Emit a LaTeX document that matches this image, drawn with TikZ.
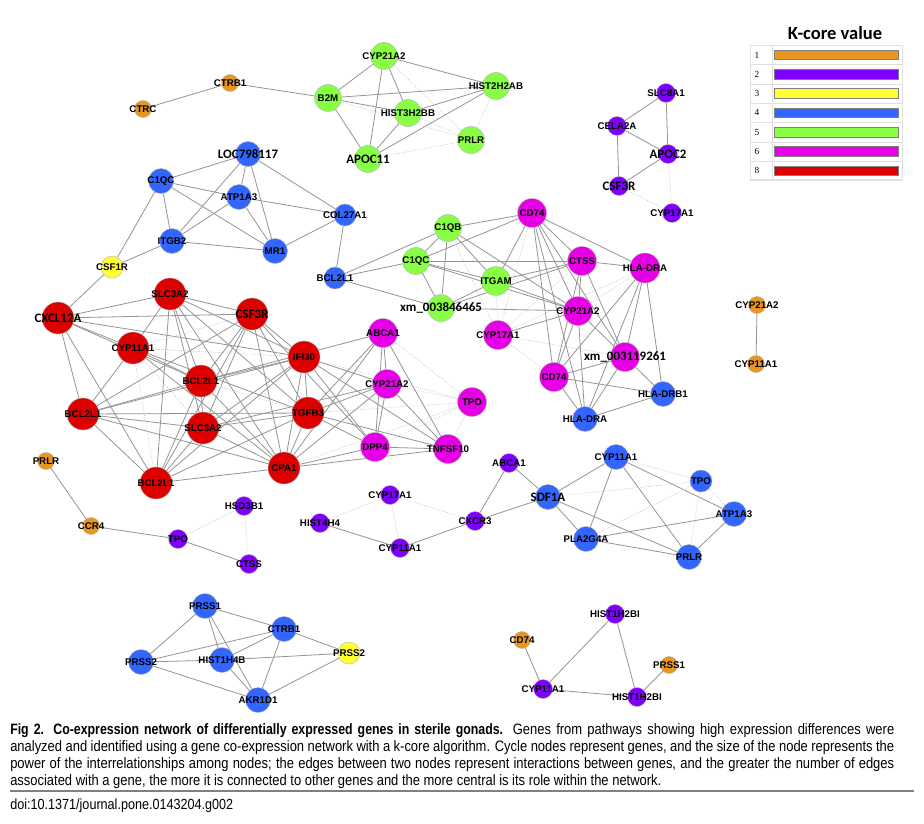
\documentclass[tikz,border=0pt]{standalone}
\usepackage{fontspec}
\setmainfont{Liberation Sans}
\newfontfamily\bigf{Carlito}
\newfontfamily\capf[FakeStretch=0.86]{Liberation Sans}
\newfontfamily\capbf[FakeStretch=0.82]{Liberation Sans}
\newfontfamily\numf{Liberation Serif}
\definecolor{korange}{RGB}{232,150,32}
\definecolor{kpurple}{RGB}{128,0,255}
\definecolor{kyellow}{RGB}{255,255,51}
\definecolor{kblue}{RGB}{51,102,255}
\definecolor{kgreen}{RGB}{136,255,68}
\definecolor{kmag}{RGB}{230,0,230}
\definecolor{kred}{RGB}{220,0,0}
\pgfdeclarelayer{bgpaper}
\pgfdeclarelayer{edges}
\pgfdeclarelayer{labels}
\pgfsetlayers{bgpaper,edges,main,labels}
\tikzset{
  nd/.style={circle, draw=black!30, line width=0.3pt, inner sep=0pt},
  orn/.style={nd, fill=korange, minimum size=12.75pt},
  pur/.style={nd, fill=kpurple, minimum size=14.25pt},
  yel/.style={nd, fill=kyellow, minimum size=16.5pt},
  blu/.style={nd, fill=kblue, minimum size=18.75pt},
  blus/.style={nd, fill=kblue, minimum size=16.5pt},
  grn/.style={nd, fill=kgreen, minimum size=20.25pt},
  mag/.style={nd, fill=kmag, minimum size=21.75pt},
  rednd/.style={nd, fill=kred, minimum size=24pt},
  lab/.style={inner sep=0pt, text=black, font=\bfseries\fontsize{7.3}{8}\selectfont},
  blab/.style={inner sep=0pt, text=black, font=\bigf\bfseries\fontsize{9.7}{11}\selectfont},
  edg/.style={draw=black!42, line width=0.6pt},
  ledg/.style={draw=black!24, line width=0.5pt, densely dotted},
  legline/.style={draw=black!12, line width=0.5pt},
  legbar/.style={draw=black!50, line width=0.5pt},
  captxt/.style={anchor=base west, inner sep=0pt, font=\capf\fontsize{11.3}{13}\selectfont}
}
\newcommand\gn[5]{\node[#4] (#1) at (#2,#3) {};
  \begin{pgfonlayer}{labels}\node[lab] (#1-t) at (#1.center) {#5};\end{pgfonlayer}}
\newcommand\gb[5]{\node[#4] (#1) at (#2,#3) {};
  \begin{pgfonlayer}{labels}\node[blab] (#1-t) at (#1.center) {#5};\end{pgfonlayer}}
\newcommand\jline[1]{\makebox[663pt][s]{#1}}
\begin{document}
\begin{tikzpicture}[x=0.75pt, y=-0.75pt]
\useasboundingbox (0,0) rectangle (924,824);
\begin{pgfonlayer}{bgpaper}
\fill[white] (0,0) rectangle (924,824);
\end{pgfonlayer}
% ---- orange
\gn{ctrb1o}{230}{83}{orn}{CTRB1}
\gn{ctrc}{143}{109}{orn}{CTRC}
\gn{prlro}{46}{461}{orn}{PRLR}
\gn{ccr4}{91}{526}{orn}{CCR4}
\gn{cyp21o}{757}{305}{orn}{CYP21A2}
\gn{cyp11o}{756}{364}{orn}{CYP11A1}
\gn{cd74o}{522}{640}{orn}{CD74}
\gn{prss1o}{669}{665}{orn}{PRSS1}
% ---- purple
\gn{slc8a1}{666}{93}{pur}{SLC8A1}
\gn{cela2a}{617}{126}{pur}{CELA2A}
\gb{apoc2}{668}{154}{pur}{APOC2}
\gb{csf3rp}{619}{186}{pur}{CSF3R}
\gn{cyp17p}{672}{213}{pur}{CYP17A1}
\gn{hsd3b1}{244}{506}{pur}{HSD3B1}
\gn{tpop}{178}{539}{pur}{TPO}
\gn{ctssp}{249}{564}{pur}{CTSS}
\gn{cyp17p2}{390}{495}{pur}{CYP17A1}
\gn{hist4h4}{320}{523}{pur}{HIST4H4}
\gn{cyp11p}{400}{548}{pur}{CYP11A1}
\gn{cxcr3}{475}{521}{pur}{CXCR3}
\gn{abca1p}{509}{463}{pur}{ABCA1}
\gn{hbi1}{615}{614}{pur}{HIST1H2BI}
\gn{cyp11p2}{543}{689}{pur}{CYP11A1}
\gn{hbi2}{637}{697}{pur}{HIST1H2BI}
% ---- yellow
\gn{csf1r}{112}{267}{yel}{CSF1R}
\gn{prss2y}{349}{653}{yel}{PRSS2}
% ---- blue
\gb{loc}{248}{154}{blu}{LOC798117}
\gn{c1qcb}{161}{181}{blu}{C1QC}
\gn{atp1a3}{239}{197}{blu}{ATP1A3}
\gn{itgb2}{172}{241}{blu}{ITGB2}
\gn{mr1}{275}{251}{blu}{MR1}
\gn{col27a1}{345}{215}{blus}{COL27A1}
\gn{bcl2l1bl}{335}{278}{blus}{BCL2L1}
\gn{hladrb1}{663}{394}{blu}{HLA-DRB1}
\gn{hladrab}{585}{419}{blu}{HLA-DRA}
\gb{sdf1a}{548}{497}{blu}{SDF1A}
\gn{cyp11b}{616}{457}{blu}{CYP11A1}
\gn{tpob}{701}{481}{blus}{TPO}
\gn{atp1a3b}{734}{514}{blu}{ATP1A3}
\gn{pla2g4a}{586}{539}{blu}{PLA2G4A}
\gn{prlrb}{689}{557}{blu}{PRLR}
\gn{prss1b}{205}{606}{blu}{PRSS1}
\gn{ctrb1b}{284}{629}{blu}{CTRB1}
\gn{prss2b}{141}{662}{blu}{PRSS2}
\gn{hist1h4b}{222}{660}{blu}{HIST1H4B}
\gn{akr1d1}{258}{700}{blu}{AKR1D1}
% ---- green
\gn{cyp21g}{384}{56}{grn}{CYP21A2}
\gn{b2m}{328}{98}{grn}{B2M}
\gn{hist2h2ab}{496}{86}{grn}{HIST2H2AB}
\gn{hist3h2bb}{408}{113}{grn}{HIST3H2BB}
\gn{prlrg}{471}{140}{grn}{PRLR}
\gb{apoc11}{368}{159}{grn}{APOC11}
\gn{c1qb}{448}{228}{grn}{C1QB}
\gn{c1qcg}{416}{261}{grn}{C1QC}
\gn{itgam}{496}{281}{grn,minimum size=21.75pt}{ITGAM}
\gb{xm38}{441}{308}{grn}{xm\_003846465}
% ---- magenta
\gn{cd74a}{532}{213}{mag}{CD74}
\gn{ctss}{582}{261}{mag}{CTSS}
\gn{hladra}{645}{268}{mag,minimum size=22.5pt}{HLA-DRA}
\gn{cyp21m}{578}{311}{mag}{CYP21A2}
\gn{cyp17m}{498}{335}{mag}{CYP17A1}
\gn{cd74b}{554}{377}{mag}{CD74}
\gb{xm31}{625}{357}{mag}{xm\_003119261}
\gn{abca1m}{383}{333}{mag}{ABCA1}
\gn{cyp21m2}{387}{384}{mag}{CYP21A2}
\gn{tpom}{472}{402}{mag}{TPO}
\gn{dpp4}{375}{447}{mag}{DPP4}
\gn{tnfsf10}{448}{449}{mag}{TNFSF10}
% ---- red
\gn{slc3a2a}{170}{294}{rednd}{SLC3A2}
\gb{cxcl12a}{58}{318}{rednd}{CXCL12A}
\gb{csf3r}{252}{314}{rednd}{CSF3R}
\gn{cyp11r}{133}{348}{rednd}{CYP11A1}
\gn{ifi30}{304}{357}{rednd}{IFI30}
\gn{bcl2l1c}{201}{381}{rednd}{BCL2L1}
\gn{bcl2l1l}{83}{414}{rednd}{BCL2L1}
\gn{slc3a2b}{203}{428}{rednd}{SLC3A2}
\gn{tgfb3}{308}{413}{rednd}{TGFB3}
\gn{cpa1}{284}{468}{rednd}{CPA1}
\gn{bcl2l1b}{156}{483}{rednd}{BCL2L1}
% ---- edges
\begin{pgfonlayer}{edges}
\foreach \a/\b in {ctrb1o/ctrc, ctrb1o/b2m,
  cyp21g/b2m, cyp21g/hist2h2ab, cyp21g/hist3h2bb, cyp21g/apoc11, b2m/hist2h2ab, b2m/hist3h2bb, b2m/apoc11,
  hist3h2bb/hist2h2ab, hist3h2bb/apoc11, apoc11/hist2h2ab,
  slc8a1/cela2a, slc8a1/apoc2, cela2a/apoc2, cela2a/csf3rp, apoc2/csf3rp,
  c1qcb/loc, c1qcb/atp1a3, c1qcb/itgb2, c1qcb/mr1, c1qcb/csf1r, loc/atp1a3, loc/itgb2, loc/mr1, loc/col27a1,
  atp1a3/itgb2, atp1a3/mr1, atp1a3/col27a1, itgb2/mr1, itgb2/csf1r, mr1/col27a1, csf1r/cxcl12a,
  col27a1/bcl2l1bl, bcl2l1bl/c1qb, bcl2l1bl/c1qcg, bcl2l1bl/xm38,
  c1qb/cd74a, c1qb/c1qcg, c1qb/xm38, c1qb/itgam, c1qb/cyp21m,
  c1qcg/ctss, c1qcg/itgam, c1qcg/cyp21m, c1qcg/xm38, c1qcg/cd74a,
  itgam/cd74a, itgam/ctss, itgam/cyp21m, itgam/xm38, xm38/cyp21m, xm38/ctss,
  cd74a/ctss, cd74a/cyp21m, cd74a/cd74b, cd74a/hladra, cd74a/xm31, cd74a/hladrab,
  ctss/hladra, ctss/cyp21m, ctss/cd74b, ctss/xm31,
  hladra/cd74b, hladra/xm31, hladra/hladrb1, hladra/hladrab,
  cyp21m/cd74b, cyp21m/xm31, cyp21m/cyp17m, cyp21m/hladrab,
  cd74b/xm31, cd74b/hladrb1, cd74b/hladrab, xm31/hladrb1, xm31/hladrab, hladrb1/hladrab,
  cxcl12a/slc3a2a, cxcl12a/csf3r, cxcl12a/cyp11r, cxcl12a/ifi30, cxcl12a/bcl2l1c, cxcl12a/bcl2l1l, cxcl12a/bcl2l1b,
  slc3a2a/csf3r, slc3a2a/cyp11r, slc3a2a/bcl2l1c, slc3a2a/slc3a2b, slc3a2a/bcl2l1b, slc3a2a/ifi30, slc3a2a/tgfb3, slc3a2a/cpa1,
  csf3r/bcl2l1l, csf3r/bcl2l1c, csf3r/slc3a2b, csf3r/bcl2l1b, csf3r/ifi30, csf3r/tgfb3, csf3r/cpa1,
  cyp11r/bcl2l1c, cyp11r/bcl2l1l, cyp11r/tgfb3, cyp11r/cpa1,
  bcl2l1c/ifi30, bcl2l1c/bcl2l1l, bcl2l1c/slc3a2b, bcl2l1c/bcl2l1b, bcl2l1c/cpa1,
  bcl2l1l/ifi30, bcl2l1l/tgfb3, bcl2l1l/slc3a2b, bcl2l1l/bcl2l1b, bcl2l1l/cpa1,
  slc3a2b/ifi30, slc3a2b/tgfb3, slc3a2b/cpa1, slc3a2b/bcl2l1b,
  ifi30/tgfb3, ifi30/cpa1, ifi30/bcl2l1b, tgfb3/cpa1, tgfb3/bcl2l1b, cpa1/bcl2l1b,
  abca1m/cyp21m2, abca1m/dpp4, abca1m/tnfsf10, cyp21m2/dpp4, cyp21m2/tnfsf10, dpp4/tnfsf10,
  ifi30/cyp21m2, ifi30/tnfsf10, ifi30/dpp4, tgfb3/abca1m, tgfb3/cyp21m2, tgfb3/dpp4, tgfb3/tnfsf10,
  cpa1/abca1m, cpa1/cyp21m2, cpa1/dpp4, cpa1/tnfsf10, abca1m/bcl2l1c, cyp21m2/slc3a2b, csf3r/dpp4,
  prlro/ccr4, ccr4/tpop, tpop/ctssp,
  hist4h4/cyp11p, cyp11p/cxcr3, cxcr3/abca1p, cxcr3/sdf1a, abca1p/sdf1a,
  sdf1a/cyp11b, sdf1a/pla2g4a, sdf1a/prlrb, cyp11b/atp1a3b, cyp11b/pla2g4a, cyp11b/prlrb,
  atp1a3b/pla2g4a, atp1a3b/prlrb, pla2g4a/prlrb,
  prss1b/prss2b, prss1b/ctrb1b, prss1b/hist1h4b, prss1b/akr1d1, ctrb1b/prss2b, ctrb1b/hist1h4b, ctrb1b/prss2y,
  ctrb1b/akr1d1, prss2b/hist1h4b, hist1h4b/prss2y, prss2b/akr1d1, hist1h4b/akr1d1, prss2y/akr1d1,
  cd74o/cyp11p2, cyp11p2/hbi1, cyp11p2/hbi2, hbi1/hbi2, hbi2/prss1o, cyp21o/cyp11o}
  \draw[edg] (\a) -- (\b);
\foreach \a/\b in {cyp21g/prlrg, b2m/prlrg, hist3h2bb/prlrg, apoc11/prlrg, hist2h2ab/prlrg,
  apoc2/cyp17p, csf3rp/cyp17p,
  c1qb/cyp17m, itgam/cyp17m, cd74a/cyp17m, ctss/cyp17m, hladra/cyp21m, hladra/cyp17m, cyp17m/cd74b, cyp17m/xm31,
  csf3r/cyp11r, cyp11r/ifi30, cyp11r/bcl2l1b, cyp11r/slc3a2b, bcl2l1c/tgfb3,
  abca1m/tpom, cyp21m2/tpom, dpp4/tpom, tpom/tnfsf10, ifi30/tpom, tgfb3/tpom, cpa1/tpom,
  tpop/hsd3b1, hsd3b1/ctssp, cyp17p2/hist4h4, cyp17p2/cyp11p, cyp17p2/cxcr3,
  sdf1a/tpob, cyp11b/tpob, tpob/atp1a3b, tpob/pla2g4a, tpob/prlrb}
  \draw[ledg] (\a) -- (\b);
\end{pgfonlayer}
% ---- legend
\node[font=\bigf\bfseries\fontsize{13.9}{15}\selectfont, inner sep=0pt] (ktitle) at (835,33) {K-core value};
\draw[legline] (750,45.5) rectangle (902,179);
\draw[legline] (772,45.5) -- (772,179);
\foreach \i/\n/\c in {0/1/korange, 1/2/kpurple, 2/3/kyellow, 3/4/kblue, 4/5/kgreen, 5/6/kmag, 6/8/kred}{
  \pgfmathsetmacro\yy{55+19.3*\i}
  \draw[legline] (750,\yy+9.65) -- (902,\yy+9.65);
  \node[font=\numf\fontsize{7}{8}\selectfont, text=black!80!blue, inner sep=0pt] (kn\i) at (757,\yy) {\n};
  \node[legbar, fill=\c, rectangle, minimum width=93pt, minimum height=7.2pt, inner sep=0pt] (kb\i) at (836,\yy) {};
}
% ---- caption
\node[captxt] (cap1) at (10,734) {\jline{{\capbf\bfseries Fig 2. Co-expression network of differentially expressed genes in sterile gonads.} Genes from pathways showing high expression differences were}};
\node[captxt] (cap2) at (10,751) {\jline{analyzed and identified using a gene co-expression network with a k-core algorithm. Cycle nodes represent genes, and the size of the node represents the}};
\node[captxt] (cap3) at (10,768) {\jline{power of the interrelationships among nodes; the edges between two nodes represent interactions between genes, and the greater the number of edges}};
\node[captxt] (cap4) at (10,785) {associated with a gene, the more it is connected to other genes and the more central is its role within the network.};
\draw[draw=black!50, line width=1.5pt] (10,791) -- (914,791);
\node[captxt, font=\capf\fontsize{11}{12}\selectfont] (doi) at (10,809) {doi:10.1371/journal.pone.0143204.g002};
\end{tikzpicture}
\end{document}
